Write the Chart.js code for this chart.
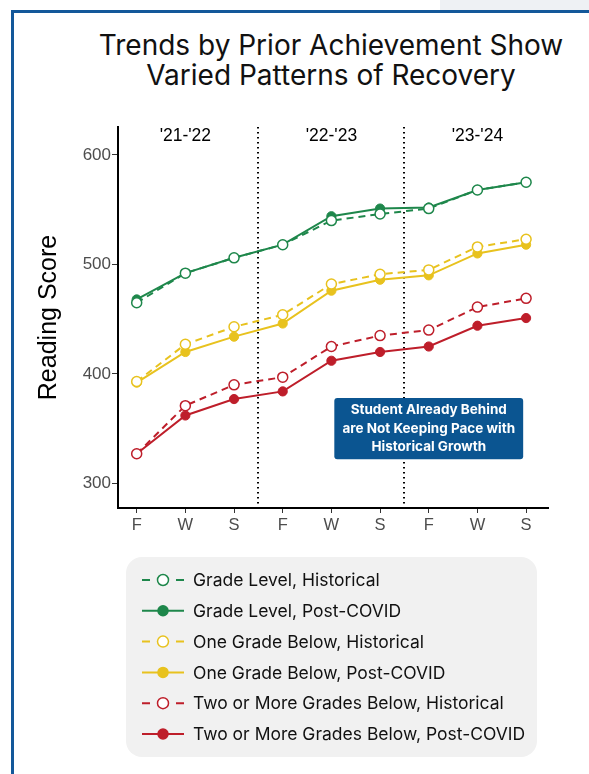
<!DOCTYPE html>
<html>
<head>
<meta charset="utf-8">
<script src="https://cdn.jsdelivr.net/npm/chart.js@4.4.1/dist/chart.umd.min.js"></script>
<style>
  html, body { margin: 0; padding: 0; background: #fff; width: 589px; height: 774px; overflow: hidden; }
  #topstrip { position: absolute; left: 440px; top: 0; width: 149px; height: 10px; background: #eef1f4; }
  #frame { position: absolute; left: 11px; top: 10px; width: 600px; height: 800px;
           border-left: 3px solid #13589a; border-top: 3px solid #13589a; }
  #title { position: absolute; left: 81px; top: 30px; width: 500px; text-align: center;
           font-family: Inter, sans-serif; font-size: 28px; line-height: 30px; color: #111; }
  #chart { position: absolute; left: 0; top: 0; }
</style>
</head>
<body>
<div id="topstrip"></div>
<div id="frame"></div>
<div id="title">Trends by Prior Achievement Show<br>Varied Patterns of Recovery</div>
<canvas id="chart" width="589" height="774"></canvas>
<script>
/* DATA */
const xLabels = ['F', 'W', 'S', 'F', 'W', 'S', 'F', 'W', 'S'];
const seasons = ["'21-'22", "'22-'23", "'23-'24"];
const seasonCenters = [1, 4, 7];
const seasonBreaks = [2.5, 5.5];
const yTicks = [300, 400, 500, 600];

const gradeHist = [465, 492, 506, 518, 540, 546, 551, 568, 575];
const gradePost = [468, 492, 506, 518, 544, 551, 552, 568, 575];
const oneHist   = [393, 427, 443, 454, 482, 491, 495, 516, 523];
const onePost   = [392, 420, 434, 446, 476, 486, 490, 510, 518];
const twoHist   = [327, 371, 390, 397, 425, 435, 440, 461, 469];
const twoPost   = [327, 362, 377, 384, 412, 420, 425, 444, 451];

const noteLines = ['Student Already Behind', 'are Not Keeping Pace with', 'Historical Growth'];
const noteBox = { x0: 4.06, x1: 7.94, y0: 322, y1: 378 };

const GREEN = '#1e874b', YELLOW = '#e8c21e', RED = '#be1e2a';
/* DATA */

function ds(label, values, color, hist) {
    return {
        label: label,
        data: values.map((v, i) => ({ x: i, y: v })),
        borderColor: color,
        backgroundColor: color,
        borderWidth: 2,
        borderDash: hist ? [7, 5] : [],
        pointRadius: hist ? 5 : 4.6,
        pointBorderWidth: hist ? 1.5 : 1,
        pointBackgroundColor: hist ? '#fff' : color,
        pointBorderColor: color,
        order: hist ? 0 : 1,
        hist: hist
    };
}

// season labels + dotted dividers behind the lines
const seasonPlugin = {
    id: 'seasons',
    beforeDatasetsDraw(chart) {
        const { ctx, chartArea, scales: { x } } = chart;
        ctx.save();
        ctx.strokeStyle = '#000';
        ctx.lineWidth = 2;
        ctx.setLineDash([1.5, 3.5]);
        seasonBreaks.forEach(b => {
            const px = Math.round(x.getPixelForValue(b));
            ctx.beginPath();
            ctx.moveTo(px, chartArea.top);
            ctx.lineTo(px, chartArea.bottom);
            ctx.stroke();
        });
        ctx.setLineDash([]);
        ctx.fillStyle = '#000';
        ctx.font = '17.5px "Liberation Sans", Arial, sans-serif';
        ctx.textAlign = 'center';
        ctx.textBaseline = 'middle';
        seasons.forEach((s, i) => {
            ctx.fillText(s, x.getPixelForValue(seasonCenters[i]), chartArea.top + 9);
        });
        ctx.restore();
    }
};

// blue callout box
const notePlugin = {
    id: 'note',
    afterDatasetsDraw(chart) {
        const { ctx, scales: { x, y } } = chart;
        const l = x.getPixelForValue(noteBox.x0), r = x.getPixelForValue(noteBox.x1);
        const t = y.getPixelForValue(noteBox.y1), b = y.getPixelForValue(noteBox.y0);
        ctx.save();
        ctx.fillStyle = '#0b5591';
        ctx.beginPath();
        ctx.roundRect(l, t, r - l, b - t, 3);
        ctx.fill();
        ctx.fillStyle = '#fff';
        ctx.font = 'bold 13.5px Inter, sans-serif';
        ctx.textAlign = 'center';
        ctx.textBaseline = 'middle';
        const cx = (l + r) / 2, cy = (t + b) / 2;
        noteLines.forEach((s, i) => ctx.fillText(s, cx, cy + (i - 1) * 18.5));
        ctx.restore();
    }
};

// legend in a grey rounded panel
const legendPlugin = {
    id: 'panelLegend',
    afterDraw(chart) {
        const ctx = chart.ctx;
        const box = { x: 126, y: 557, w: 411, h: 200, r: 16 };
        ctx.save();
        ctx.fillStyle = '#f1f1f1';
        ctx.beginPath();
        ctx.roundRect(box.x, box.y, box.w, box.h, box.r);
        ctx.fill();
        chart.data.datasets.forEach((d, i) => {
            const yy = 580 + i * 30.8;
            ctx.strokeStyle = d.borderColor;
            ctx.lineWidth = 2;
            ctx.beginPath();
            if (d.hist) {
                ctx.moveTo(142, yy); ctx.lineTo(150, yy);
                ctx.moveTo(176, yy); ctx.lineTo(184, yy);
            } else {
                ctx.moveTo(142, yy); ctx.lineTo(184, yy);
            }
            ctx.stroke();
            ctx.beginPath();
            ctx.arc(163, yy, d.hist ? 5.5 : 5, 0, Math.PI * 2);
            ctx.fillStyle = d.hist ? '#fff' : d.borderColor;
            ctx.fill();
            ctx.lineWidth = 1.5;
            ctx.stroke();
            ctx.fillStyle = '#111';
            ctx.font = '17.5px Inter, sans-serif';
            ctx.textAlign = 'left';
            ctx.textBaseline = 'middle';
            ctx.fillText(d.label, 193, yy + 1);
        });
        ctx.restore();
    }
};

const config = {
    type: 'line',
    data: {
        datasets: [
            ds('Grade Level, Historical', gradeHist, GREEN, true),
            ds('Grade Level, Post-COVID', gradePost, GREEN, false),
            ds('One Grade Below, Historical', oneHist, YELLOW, true),
            ds('One Grade Below, Post-COVID', onePost, YELLOW, false),
            ds('Two or More Grades Below, Historical', twoHist, RED, true),
            ds('Two or More Grades Below, Post-COVID', twoPost, RED, false)
        ]
    },
    options: {
        responsive: false,
        animation: false,
        layout: { padding: { left: 30, right: 41, top: 127, bottom: 230 } },
        plugins: { legend: { display: false }, title: { display: false }, tooltip: { enabled: false } },
        scales: {
            x: {
                type: 'linear',
                min: -0.384, max: 8.45,
                border: { display: true, color: '#000', width: 2 },
                grid: { drawOnChartArea: false, drawTicks: true, tickLength: 5, color: '#333' },
                afterBuildTicks: s => { s.ticks = xLabels.map((_, i) => ({ value: i })); },
                afterFit: s => { s.height = 36; },
                ticks: {
                    autoSkip: false, maxRotation: 0, padding: 3, color: '#4d4d4d',
                    font: { family: '"Liberation Sans", Arial, sans-serif', size: 16.5 },
                    callback: v => xLabels[v]
                }
            },
            y: {
                min: 277.5, max: 625.5,
                border: { display: true, color: '#000', width: 2 },
                grid: { drawOnChartArea: false, drawTicks: true, tickLength: 6, color: '#333' },
                afterBuildTicks: s => { s.ticks = yTicks.map(v => ({ value: v })); },
                afterFit: s => { s.width = 88; },
                ticks: {
                    padding: 1, color: '#4d4d4d',
                    font: { family: '"Liberation Sans", Arial, sans-serif', size: 17 }
                },
                title: {
                    display: true, text: 'Reading Score', color: '#000',
                    font: { family: '"Liberation Sans", Arial, sans-serif', size: 25 }
                }
            }
        }
    },
    plugins: [seasonPlugin, notePlugin, legendPlugin]
};

window.onload = function() {
    const ctx = document.getElementById('chart').getContext('2d');
    window.myChart = new Chart(ctx, config);
};
</script>
</body>
</html>
